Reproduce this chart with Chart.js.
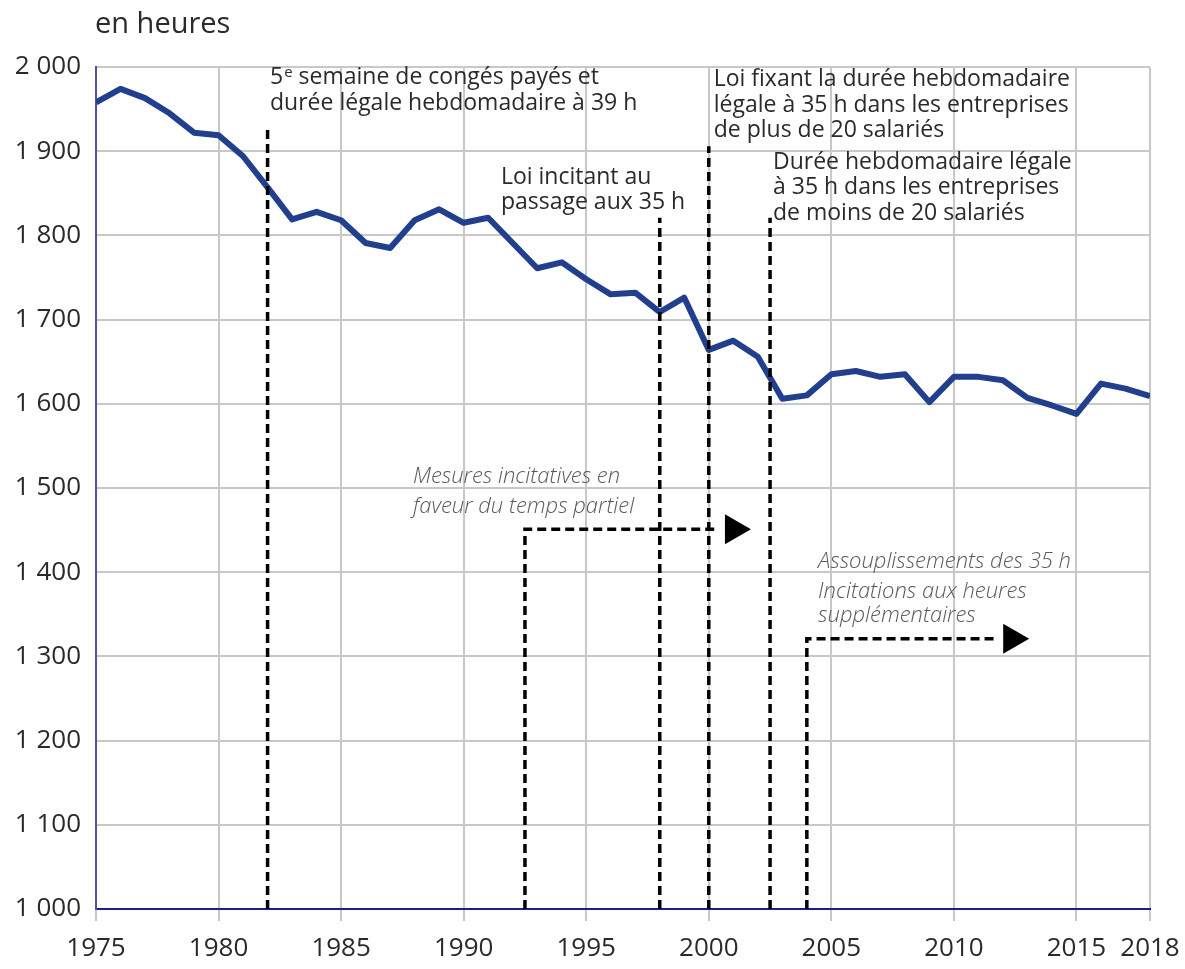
<!DOCTYPE html>
<html lang="fr">
<head>
<meta charset="utf-8">
<title>Durée annuelle effective du travail</title>
<script src="https://cdn.jsdelivr.net/npm/chart.js@4.4.1/dist/chart.umd.min.js"></script>
<style>
  html, body { margin: 0; padding: 0; background: #ffffff; }
  #wrap { width: 1185px; height: 969px; position: relative; }
</style>
</head>
<body>
<div id="wrap"><canvas id="chart" width="1185" height="969"></canvas></div>
<script>
// Durée annuelle effective du travail, en heures
const years = [1975, 1976, 1977, 1978, 1979, 1980, 1981, 1982, 1983, 1984,
               1985, 1986, 1987, 1988, 1989, 1990, 1991, 1992, 1993, 1994,
               1995, 1996, 1997, 1998, 1999, 2000, 2001, 2002, 2003, 2004,
               2005, 2006, 2007, 2008, 2009, 2010, 2011, 2012, 2013, 2014,
               2015, 2016, 2017, 2018];
const hours = [1958, 1974, 1963, 1945, 1922, 1919, 1894, 1857, 1819, 1828,
               1818, 1791, 1785, 1818, 1831, 1815, 1821, 1791, 1761, 1768,
               1748, 1730, 1732, 1709, 1726, 1664, 1675, 1656, 1606, 1610,
               1635, 1639, 1632, 1635, 1602, 1632, 1632, 1628, 1607, 1598,
               1588, 1624, 1618, 1609];

const xTicks = [1975, 1980, 1985, 1990, 1995, 2000, 2005, 2010, 2015, 2018];
const yTicks = [1000, 1100, 1200, 1300, 1400, 1500, 1600, 1700, 1800, 1900, 2000];

// Réformes : année de la mesure et hauteur du trait pointillé
const lawYears = [1982, 1998, 2000, 2002.5];
const lawTops  = [1929, 1821, 1906, 1821];
const lawTexts = [
  ['5|e| semaine de congés payés et', 'durée légale hebdomadaire à 39 h'],
  ['Loi incitant au', 'passage aux 35 h'],
  ['Loi fixant la durée hebdomadaire', 'légale à 35 h dans les entreprises', 'de plus de 20 salariés'],
  ['Durée hebdomadaire légale', 'à 35 h dans les entreprises', 'de moins de 20 salariés']
];
// Ancrage du texte (année, niveau de la première ligne)
const lawTextYears  = [1982.1, 1991.52, 2000.2, 2002.62];
const lawTextLevels = [1987, 1869, 1985, 1887];

// Mesures en vigueur sur une période (début, niveau, fin de la flèche)
const spanStart = [1992.5, 2004];
const spanLevel = [1451, 1321];
const spanTip   = [2001.72, 2013.07];
const spanTexts = [
  ['Mesures incitatives en', 'faveur du temps partiel'],
  ['Assouplissements des 35 h', 'Incitations aux heures', 'supplémentaires']
];
const spanTextYears  = [1987.93, 2004.46];
const spanTextLevels = [1513, 1412];

const FONT = "'Open Sans', 'Noto Sans', sans-serif";

function frNumber(v) {
  return String(v).replace(/\B(?=(\d{3})+(?!\d))/g, ' ');
}

const notes = {
  id: 'notes',
  afterDatasetsDraw(chart) {
    const ctx = chart.ctx;
    const xs = chart.scales.x, ys = chart.scales.y;
    const y0 = ys.getPixelForValue(1000);

    ctx.save();
    ctx.strokeStyle = '#000000';
    ctx.lineWidth = 3.5;
    ctx.setLineDash([9, 5]);
    ctx.lineCap = 'butt';

    // Traits verticaux des lois
    lawYears.forEach((yr, i) => {
      const x = xs.getPixelForValue(yr);
      ctx.beginPath();
      ctx.moveTo(x, y0);
      ctx.lineTo(x, ys.getPixelForValue(lawTops[i]));
      ctx.stroke();
    });

    // Périodes avec flèche
    spanStart.forEach((yr, i) => {
      const x = xs.getPixelForValue(yr);
      const yl = ys.getPixelForValue(spanLevel[i]);
      const tip = xs.getPixelForValue(spanTip[i]);
      const base = tip - 26;
      ctx.setLineDash([9, 5]);
      ctx.beginPath();
      ctx.moveTo(x, y0);
      ctx.lineTo(x, yl);
      ctx.lineTo(base - 6, yl);
      ctx.stroke();
      ctx.setLineDash([]);
      ctx.fillStyle = '#000000';
      ctx.beginPath();
      ctx.moveTo(base, yl - 15);
      ctx.lineTo(tip, yl);
      ctx.lineTo(base, yl + 15);
      ctx.closePath();
      ctx.fill();
    });
    ctx.restore();

    // Libellés des lois
    ctx.save();
    ctx.textBaseline = 'middle';
    ctx.textAlign = 'left';
    ctx.fillStyle = '#2a2a2a';
    lawTexts.forEach((lines, i) => {
      const x = xs.getPixelForValue(lawTextYears[i]);
      const yTop = ys.getPixelForValue(lawTextLevels[i]);
      lines.forEach((line, j) => {
        const y = yTop + j * 25.5;
        if (line.indexOf('|') >= 0) {
          const parts = line.split('|');
          let cx = x;
          ctx.font = '23px ' + FONT;
          ctx.fillText(parts[0], cx, y);
          cx += ctx.measureText(parts[0]).width + 1;
          ctx.font = '15px ' + FONT;
          ctx.fillText(parts[1], cx, y - 5);
          cx += ctx.measureText(parts[1]).width;
          ctx.font = '23px ' + FONT;
          ctx.fillText(parts[2], cx, y);
        } else {
          ctx.font = '23px ' + FONT;
          ctx.fillText(line, x, y);
        }
      });
    });

    // Libellés des périodes (italique)
    ctx.fillStyle = '#585858';
    ctx.font = 'italic 300 22px ' + FONT;
    const gaps = [[0, 30], [0, 30, 54]];
    spanTexts.forEach((lines, i) => {
      const x = xs.getPixelForValue(spanTextYears[i]);
      const yTop = ys.getPixelForValue(spanTextLevels[i]);
      lines.forEach((line, j) => {
        ctx.fillText(line, x, yTop + gaps[i][j]);
      });
    });
    ctx.restore();
  },
  afterDraw(chart) {
    const ctx = chart.ctx;
    ctx.save();
    ctx.fillStyle = '#2a2a2a';
    ctx.font = '29px ' + FONT;
    ctx.textBaseline = 'middle';
    ctx.textAlign = 'left';
    ctx.fillText('en heures', 95, 25);
    ctx.restore();
  }
};

new Chart(document.getElementById('chart'), {
  type: 'line',
  data: {
    datasets: [{
      data: years.map((y, i) => ({ x: y, y: hours[i] })),
      borderColor: '#223f8e',
      borderWidth: 6,
      pointRadius: 0,
      tension: 0,
      fill: false,
      borderJoinStyle: 'round'
    }]
  },
  options: {
    responsive: false,
    animation: false,
    layout: { padding: { top: 67, right: 35, left: 0, bottom: 0 } },
    plugins: { legend: { display: false }, tooltip: { enabled: false } },
    scales: {
      x: {
        type: 'linear',
        min: 1975,
        max: 2018,
        afterBuildTicks: s => { s.ticks = xTicks.map(v => ({ value: v })); },
        afterFit: s => { s.height = 60; s.paddingLeft = 0; s.paddingRight = 0; },
        grid: { color: '#c8c8c8', lineWidth: 2, tickLength: 12, drawTicks: true },
        border: { color: '#1e1e84', width: 2 },
        ticks: {
          autoSkip: false, maxRotation: 0, padding: 12,
          color: '#2a2a2a',
          font: { family: FONT, size: 26 },
          callback: v => String(v)
        }
      },
      y: {
        min: 1000,
        max: 2000,
        afterBuildTicks: s => { s.ticks = yTicks.map(v => ({ value: v })); },
        afterFit: s => { s.width = 96; },
        grid: { color: '#c8c8c8', lineWidth: 2, drawTicks: false },
        border: { color: '#5252a2', width: 2 },
        ticks: {
          padding: 15,
          color: '#2a2a2a',
          font: { family: FONT, size: 26 },
          callback: v => frNumber(v)
        }
      }
    }
  },
  plugins: [notes]
});
</script>
</body>
</html>
